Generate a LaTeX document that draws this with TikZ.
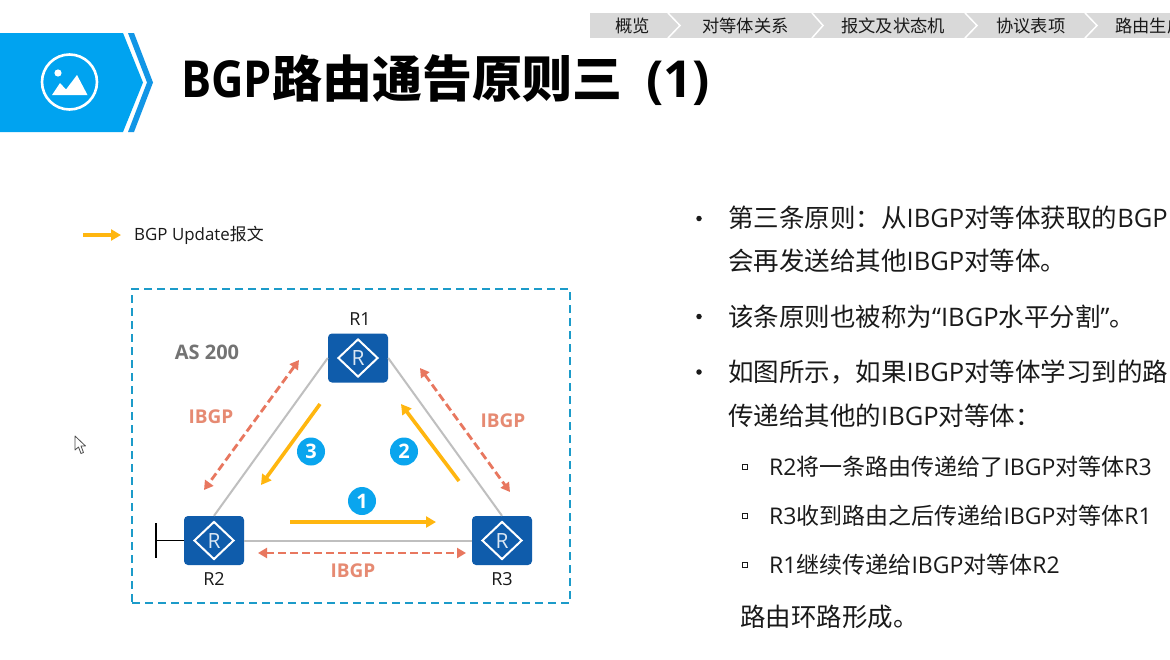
\documentclass[tikz,border=0pt]{standalone}
\usepackage{fontspec}
\usetikzlibrary{arrows.meta,shapes.geometric}
\setmainfont{Open Sans}
\newfontfamily\cjkfont{Noto Sans CJK SC}
\newfontfamily\titlefont[FakeStretch=0.88]{Open Sans}
\newcommand{\Cn}[1]{{\cjkfont #1}}
\newcommand{\FS}[1]{\fontsize{#1}{#1}\selectfont}
\definecolor{bannerblue}{HTML}{00A3F0}
\definecolor{chevblue}{HTML}{1296E6}
\definecolor{navgrey}{HTML}{D9D9D9}
\definecolor{boxblue}{HTML}{1C9BC9}
\definecolor{routerblue}{HTML}{0F5CAB}
\definecolor{linkgrey}{HTML}{BFBFBF}
\definecolor{salmon}{HTML}{E8775F}
\definecolor{labelsalmon}{HTML}{E68A72}
\definecolor{updateyellow}{HTML}{FFB60F}
\definecolor{badgeblue}{HTML}{0AA5EE}
\definecolor{textdark}{HTML}{1A1A1A}
\tikzset{
  txt/.style={inner sep=0pt,anchor=base west,text=textdark},
  navtxt/.style={inner sep=0pt,anchor=base west,text=textdark,font=\cjkfont\FS{17.3}},
  navsep/.style={draw=white,line width=1.5pt},
  router/.style={fill=routerblue,rounded corners=4pt,minimum width=60pt,minimum height=49pt,inner sep=0pt},
  rdiamond/.style={draw=white,line width=2pt,diamond,aspect=1,minimum width=40pt,minimum height=38pt,inner sep=0pt,text=white!85!routerblue,font=\FS{21}},
  rlabel/.style={inner sep=0pt,text=textdark,font=\FS{18}},
  link/.style={draw=linkgrey,line width=2pt},
  peer/.style={draw=salmon,line width=2.8pt,dash pattern=on 8pt off 4pt,{Triangle[length=9pt,width=10pt]}-{Triangle[length=9pt,width=10pt]}},
  update/.style={draw=updateyellow,line width=3.6pt,-{Triangle[length=10pt,width=11pt]}},
  ibgp/.style={inner sep=0pt,text=labelsalmon,font=\bfseries\FS{19}},
  badge/.style={circle,fill=badgeblue,minimum size=28pt,inner sep=0pt,text=white,font=\bfseries\FS{20}},
  dotb/.style={circle,fill=textdark,minimum size=5.5pt,inner sep=0pt},
  squareb/.style={draw=textdark,line width=.8pt,minimum size=5pt,inner sep=0pt},
  body/.style={txt,font=\FS{25.5}},
  sub/.style={txt,font=\FS{23}},
}
\begin{document}
\begin{tikzpicture}[x=1pt,y=-1pt]
\useasboundingbox (0,0) rectangle (1170,659);
\clip (0,0) rectangle (1170,659);
\fill[white] (0,0) rectangle (1170,659);
% navigation bar
\fill[navgrey] (590,13) rectangle (1170,38);
\draw[navsep] (668,13) -- (680,25.5) -- (668,38);
\draw[navsep] (812,13) -- (823,25.5) -- (812,38);
\draw[navsep] (965,13) -- (977,25.5) -- (965,38);
\draw[navsep] (1085,13) -- (1097,25.5) -- (1085,38);
\node[navtxt] (nav1) at (615,32) {概览};
\node[navtxt] (nav2) at (702,32) {对等体关系};
\node[navtxt] (nav3) at (841,32) {报文及状态机};
\node[navtxt] (nav4) at (996,32) {协议表项};
\node[navtxt] (nav5) at (1115,32) {路由生成};
% banner
\fill[bannerblue] (0,33) -- (123,33) -- (143,82.5) -- (123,132) -- (0,132) -- cycle;
\fill[chevblue] (128,33) -- (134,33) -- (153,82.5) -- (134,132) -- (128,132) -- (147,82.5) -- cycle;
\draw[white,line width=2.6pt] (69.5,82) circle (27.5);
\fill[white] (58,73) circle (3.6);
\fill[white] (52,95) -- (60,83) -- (66,89.5) -- (77,75) -- (87.5,95) -- cycle;
% title
\node[txt,text=black,font=\bfseries\FS{51}] (title) at (181,97) {{\titlefont BGP}{\cjkfont\bfseries\FS{50}路由通告原则三}\kern 24pt(1)};
% legend
\coordinate (legA) at (83,235);
\coordinate (legB) at (121,235);
\draw[update] (legA) -- (legB);
\node[txt,font=\FS{16.9}] (legend) at (134,240.5) {BGP Update\Cn{报文}};
% AS box
\node[draw=boxblue,line width=1.8pt,dash pattern=on 8pt off 5pt,minimum width=438pt,minimum height=314pt,inner sep=0pt] (asbox) at (351,446) {};
\node[inner sep=0pt,text=black!55,font=\bfseries\FS{20}] (as) at (207,352) {AS 200};
% routers
\node[router] (R1) at (358,358) {};
\node[router] (R2) at (214,540.5) {};
\node[router] (R3) at (502,540.5) {};
\node[rdiamond] (d1) at (R1) {R};
\node[rdiamond] (d2) at (R2) {R};
\node[rdiamond] (d3) at (R3) {R};
\node[rlabel] (l1) at (360,319) {R1};
\node[rlabel] (l2) at (214,579) {R2};
\node[rlabel] (l3) at (502,579) {R3};
% links
\draw[link] (R2.north) -- (R1.west);
\draw[link] (R1.east) -- (R3.north);
\draw[link] (R2.east) -- (R3.west);
\coordinate (stub) at (156,540.5);
\draw[black,line width=1.5pt] (R2.west) -- (stub);
\draw[black,line width=1.5pt] (156,523) -- (156,557.5);
% IBGP peers
\coordinate (pa1) at (299,360); \coordinate (pa2) at (204,490);
\coordinate (pb1) at (420,368); \coordinate (pb2) at (510,492);
\coordinate (pc1) at (258,553); \coordinate (pc2) at (466,553);
\draw[peer] (pa1) -- (pa2);
\draw[peer] (pb1) -- (pb2);
\draw[peer] (pc1) -- (pc2);
\node[ibgp] (i1) at (211,417) {IBGP};
\node[ibgp] (i2) at (503,421) {IBGP};
\node[ibgp] (i3) at (353,571) {IBGP};
% updates
\coordinate (u1a) at (290,522); \coordinate (u1b) at (436,522);
\coordinate (u2a) at (459,481); \coordinate (u2b) at (401,404);
\coordinate (u3a) at (320,404); \coordinate (u3b) at (261,485);
\draw[update] (u1a) -- (u1b);
\draw[update] (u2a) -- (u2b);
\draw[update] (u3a) -- (u3b);
\node[badge] (b1) at (362,501) {1};
\node[badge] (b2) at (404,451.5) {2};
\node[badge] (b3) at (311,451.5) {3};
% mouse cursor
\draw[black!70,fill=white,line width=.8pt,line join=round] (75,436) -- (75,450) -- (78.5,447) -- (81,453.5) -- (83.5,452.5) -- (81,446) -- (85.5,446) -- cycle;
% bullets
\node[dotb] (o1) at (699,218.5) {};
\node[dotb] (o2) at (699,316.5) {};
\node[dotb] (o3) at (699,372) {};
\node[body] (t1) at (728,227) {\Cn{第三条原则：从}IBGP\Cn{对等体获取的}BGP};
\node[body] (t2) at (728,270) {\Cn{会再发送给其他}IBGP\Cn{对等体。}};
\node[body] (t3) at (728,326) {\Cn{该条原则也被称为}“IBGP\Cn{水平分割}”\Cn{。}};
\node[body] (t4) at (728,381) {\Cn{如图所示，如果}IBGP\Cn{对等体学习到的路}};
\node[body] (t5) at (728,425) {\Cn{传递给其他的}IBGP\Cn{对等体：}};
\node[squareb] (s1) at (744.5,467) {};
\node[squareb] (s2) at (744.5,516) {};
\node[squareb] (s3) at (744.5,565) {};
\node[sub] (u1) at (769,475) {R2\Cn{将一条路由传递给了}IBGP\Cn{对等体}R3};
\node[sub] (u2) at (769,524) {R3\Cn{收到路由之后传递给}IBGP\Cn{对等体}R1};
\node[sub] (u3) at (769,573) {R1\Cn{继续传递给}IBGP\Cn{对等体}R2};
\node[body] (t6) at (740,626) {\Cn{路由环路形成。}};
\end{tikzpicture}
\end{document}
